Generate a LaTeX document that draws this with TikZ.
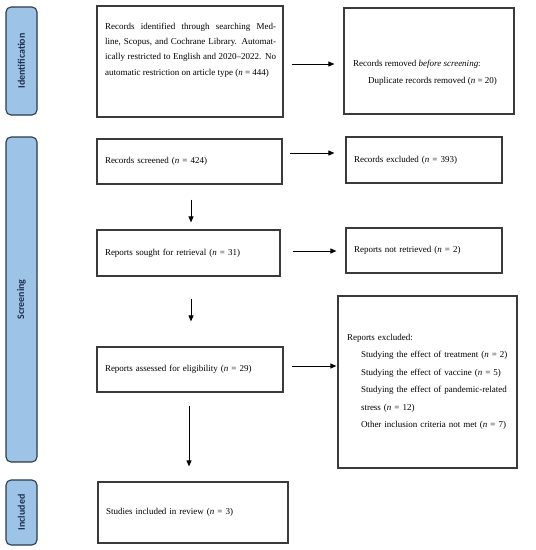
\documentclass[tikz,border=0pt]{standalone}
\usepackage{fontspec}
\setmainfont{Liberation Serif}
\newfontfamily\barfont{Carlito}
\usetikzlibrary{arrows.meta}
\definecolor{boxgray}{HTML}{3A3A3A}
\definecolor{barblue}{HTML}{9DC3E6}
\definecolor{bardark}{HTML}{2B3A4A}
\definecolor{bartext}{HTML}{1F2F4F}
\begin{document}
\begin{tikzpicture}[x=1pt,y=-1pt,
  box/.style={draw=boxgray,line width=1.2pt,inner sep=0pt,align=left,font=\fontsize{9}{11}\selectfont},
  sidebar/.style={draw=bardark,fill=barblue,rounded corners=5pt,line width=1.1pt,rotate=90,
    minimum height=31pt,inner sep=0pt,font=\barfont\bfseries\fontsize{10}{12}\selectfont,text=bartext},
  txt/.style={anchor=west,inner sep=0pt,align=left},
  arr/.style={-{Triangle[length=6pt,width=5pt]},line width=0.9pt}
]
\useasboundingbox (0,0) rectangle (536,550);

% side bars
\node[sidebar,minimum width=108pt] (idb) at (21.5,61) {Identification};
\node[sidebar,minimum width=325pt] (scb) at (21.5,299.5) {Screening};
\node[sidebar,minimum width=65pt] (inb) at (21.5,512.5) {Included};

% boxes
\node[box,minimum width=186pt,minimum height=111pt] (b1) at (190,61.5) {};
\node[txt,font=\fontsize{9}{15.3}\selectfont] (b1t) at (105,50) {%
\makebox[171pt][s]{Records identified through searching Med-}\\
\makebox[171pt][s]{line, Scopus, and Cochrane Library. Automat-}\\
\makebox[171pt][s]{ically restricted to English and 2020–2022. No}\\
automatic restriction on article type (\textit{n} = 444)};

\node[box,minimum width=170pt,minimum height=106pt] (b2) at (429,61) {};
\node[txt,font=\fontsize{9}{17}\selectfont] (b2t) at (353,72.5) {%
Records removed \textit{before screening}:\\
\hspace*{15pt}Duplicate records removed (\textit{n} = 20)};

\node[box,minimum width=185pt,minimum height=45pt,text width=169pt] (b3) at (189.5,161.5)
  {Records screened (\textit{n} = 424)};
\node[box,minimum width=156pt,minimum height=46pt,text width=140pt] (b4) at (424,160)
  {Records excluded (\textit{n} = 393)};
\node[box,minimum width=183pt,minimum height=46pt,text width=167pt] (b5) at (188.5,253)
  {Reports sought for retrieval (\textit{n} = 31)};
\node[box,minimum width=156pt,minimum height=45pt,text width=140pt] (b6) at (424,250.5)
  {Reports not retrieved (\textit{n} = 2)};
\node[box,minimum width=186pt,minimum height=45pt,text width=170pt] (b7) at (190,369.5)
  {Reports assessed for eligibility (\textit{n} = 29)};
\node[box,minimum width=179pt,minimum height=172pt,text width=161pt,font=\fontsize{9}{17.5}\selectfont] (b8) at (427.5,382)
  {Reports excluded:\\
   \hspace*{14pt}Studying the effect of treatment (\textit{n} = 2)\\
   \hspace*{14pt}Studying the effect of vaccine (\textit{n} = 5)\\
   \hspace*{14pt}Studying the effect of pandemic-related\\
   \hspace*{14pt}stress (\textit{n} = 12)\\
   \hspace*{14pt}Other inclusion criteria not met (\textit{n} = 7)};
\node[box,minimum width=190pt,minimum height=61pt,text width=174pt] (b9) at (193,512.5)
  {Studies included in review (\textit{n} = 3)};

% arrows
\draw[arr,shorten <=8pt,shorten >=9pt] ([yshift=-2.5pt]b1.east) -- ([yshift=-2.5pt]b1.east -| b2.west);
\draw[arr,shorten <=7pt,shorten >=11pt] ([yshift=8.5pt]b3.east) -- ([yshift=8.5pt]b3.east -| b4.west);
\draw[arr,shorten <=12pt,shorten >=9pt] ([yshift=2pt]b5.east) -- ([yshift=2pt]b5.east -| b6.west);
\draw[arr,shorten <=8pt,shorten >=1pt] ([yshift=3.5pt]b7.east) -- ([yshift=3.5pt]b7.east -| b8.west);

\draw[arr,shorten <=15pt,shorten >=7pt] ([xshift=1.5pt]b3.south) -- ([xshift=1.5pt]b3.south |- b5.north);
\draw[arr,shorten <=22pt,shorten >=25pt] ([xshift=2.5pt]b5.south) -- ([xshift=2.5pt]b5.south |- b7.north);
\draw[arr,shorten <=13pt,shorten >=15pt] ([xshift=-1pt]b7.south) -- ([xshift=-1pt]b7.south |- b9.north);
\end{tikzpicture}
\end{document}
